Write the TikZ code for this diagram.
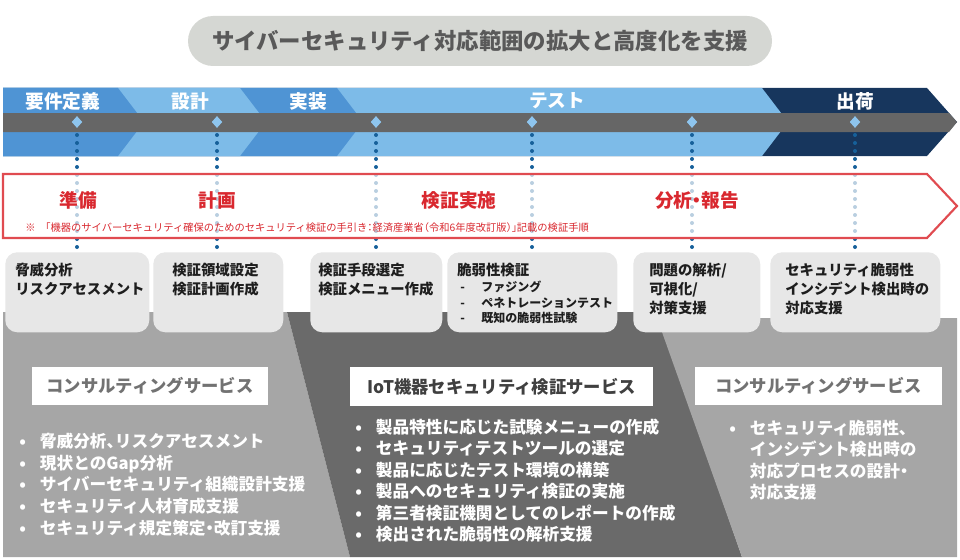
\documentclass[tikz,border=0pt]{standalone}
\usepackage{fontspec}
\setmainfont{Noto Sans CJK JP}
\usetikzlibrary{shapes.geometric}
\definecolor{mblue}{HTML}{4F94D4}
\definecolor{lblue}{HTML}{7DBBE8}
\definecolor{navy}{HTML}{17365D}
\definecolor{bargray}{HTML}{666666}
\definecolor{dia}{HTML}{8EC5EE}
\definecolor{dotblue}{HTML}{16609A}
\definecolor{redl}{HTML}{E04B50}
\definecolor{redt}{HTML}{D9282F}
\definecolor{boxg}{HTML}{E7E7E7}
\definecolor{pl}{HTML}{A6A6A6}
\definecolor{pd}{HTML}{6A6A6A}
\definecolor{pillc}{HTML}{D5D7D3}
\definecolor{titlet}{HTML}{595959}
\definecolor{boxt}{HTML}{1E1E1E}
\tikzset{
  phaselbl/.style={text=white, font=\bfseries\fontsize{14}{16}\selectfont, inner sep=0},
  dmark/.style={diamond, fill=dia, inner sep=0, minimum width=8pt, minimum height=9pt},
  dotline/.style={dotblue, line width=3pt, line cap=round, dash pattern=on 0pt off 6pt},
  redlbl/.style={text=redt, font=\bfseries\fontsize{14}{16}\selectfont, inner sep=0},
  gbox/.style={fill=boxg, rounded corners=9pt, minimum height=60pt, inner sep=0, anchor=north west},
  btext/.style={text=boxt, font=\bfseries\fontsize{10.8}{14.25}\selectfont, align=left, inner sep=0, anchor=north west},
  bsmall/.style={text=boxt, font=\bfseries\fontsize{9}{11.5}\selectfont, align=left, inner sep=0, anchor=north west},
  wlabel/.style={fill=white, inner sep=0, font=\bfseries\fontsize{13}{15}\selectfont},
  blist/.style={text=white, font=\bfseries\fontsize{12.5}{16.3}\selectfont, align=left, inner sep=0, anchor=north west},
}
\newcommand{\bl}{\makebox[15.5pt][l]{•}}
\newcommand{\dl}{\makebox[15.75pt][l]{-}}
\newcommand{\hp}[1]{{\addfontfeature{RawFeature=+halt}#1}}
\begin{document}
\begin{tikzpicture}[x=0.75pt,y=-0.75pt]
\useasboundingbox (0,0) rectangle (960,560);
% title
\node[fill=pillc, rounded corners=18.75pt, minimum width=438pt, minimum height=37.5pt, inner sep=0,
  text=titlet, font=\bfseries\fontsize{16.8}{18}\selectfont] (title) at (480,41)
  {サイバーセキュリティ対応範囲の拡大と高度化を支援};
% phase band
\fill[navy] (3,88) -- (927,88) -- (957,122) -- (927,156) -- (3,156) -- cycle;
\fill[lblue] (3,88) -- (762,88) -- (788,122) -- (762,156) -- (3,156) -- cycle;
\fill[mblue] (3,88) -- (337,88) -- (363,122) -- (337,156) -- (3,156) -- cycle;
\fill[lblue] (3,88) -- (240,88) -- (266,122) -- (240,156) -- (3,156) -- cycle;
\fill[mblue] (3,88) -- (118,88) -- (144,122) -- (118,156) -- (3,156) -- cycle;
\fill[bargray] (3,113) -- (949,113) -- (957,122) -- (949,132) -- (3,132) -- cycle;
\node[phaselbl] (p1) at (63,101) {要件定義};
\node[phaselbl] (p2) at (190,101) {設計};
\node[phaselbl] (p3) at (308,101) {実装};
\node[phaselbl] (p4) at (557,101) {テスト};
\node[phaselbl] (p5) at (855,101) {出荷};
% diamonds
\node[dmark] (d1) at (77,122) {};
\node[dmark] (d2) at (217,122) {};
\node[dmark] (d3) at (376,122) {};
\node[dmark] (d4) at (532,122) {};
\node[dmark] (d5) at (692,122) {};
\node[dmark] (d6) at (855,122) {};
% lower panels
\fill[pl] (3,312) -- (287,312) -- (350,557) -- (3,557) -- cycle;
\fill[pd] (287,312) -- (657,312) -- (742,557) -- (350,557) -- cycle;
\fill[pl] (657,318) -- (957,318) -- (957,557) -- (742,557) -- cycle;
% boxes
\node[gbox, minimum width=108pt] (b1) at (5,252) {};
\node[gbox, minimum width=97.5pt] (b2) at (153,252) {};
\node[gbox, minimum width=99pt] (b3) at (310,252) {};
\node[gbox, minimum width=127.5pt] (b4) at (447,252) {};
\node[gbox, minimum width=95.25pt] (b5) at (633,252) {};
\node[gbox, minimum width=127.5pt] (b6) at (770,252) {};
% dotted connectors
\foreach \d/\b in {d1/b1,d2/b2,d3/b3,d4/b4,d5/b5,d6/b6}{
  \draw[dotline] ([yshift=-9.75pt]\d.center) -- (\d |- \b.north);
}
% red arrow
\fill[white, fill opacity=0.7] (3,174) -- (927,174) -- (957,206) -- (927,238) -- (3,238) -- cycle;
\draw[redl, line width=1.6pt, line join=miter] (3,174) -- (927,174) -- (957,206) -- (927,238) -- (3,238) -- cycle;
\node[redlbl] (r1) at (78,200) {準備};
\node[redlbl] (r2) at (217,200) {計画};
\node[redlbl] (r3) at (459,200) {検証実施};
\node[redlbl] (r4) at (697,200) {分析\hp{・}報告};
\node[text=redt, font=\fontsize{7.7}{9}\selectfont, inner sep=0, anchor=west] (note) at (25,228)
  {※\hspace{7.5pt}\hp{「機器のサイバーセキュリティ確保のためのセキュリティ検証の手引き：経済産業省（令和6年度改訂版）」記載の検証手順}};
% box texts
\node[btext] (t1) at (15,262.7) {脅威分析\\リスクアセスメント};
\node[btext] (t2) at (172,262.7) {検証領域設定\\検証計画作成};
\node[btext] (t3) at (318,262.7) {検証手段選定\\検証メニュー作成};
\node[btext] (t4) at (457,262.7) {脆弱性検証};
\node[bsmall] (t4b) at (460,281) {\dl ファジング\\\dl ペネトレーションテスト\\\dl 既知の脆弱性試験};
\node[btext] (t5) at (649,262.7) {問題の解析/\\可視化/\\対策支援};
\node[btext] (t6) at (785,262.7) {セキュリティ脆弱性\\インシデント検出時の\\対応支援};
% service labels
\node[wlabel, minimum width=177pt, minimum height=28.5pt, text=titlet!85!white] (s1) at (150,386) {コンサルティングサービス};
\node[wlabel, minimum width=227.25pt, minimum height=29.25pt, text=black!75] (s2) at (501.5,386.5) {IoT機器セキュリティ検証サービス};
\node[wlabel, minimum width=185.25pt, minimum height=28.5pt, text=titlet!85!white] (s3) at (818.5,386) {コンサルティングサービス};
% lists
\node[blist] (l1) at (19,432.7) {\bl 脅威分析\hp{、}リスクアセスメント\\\bl 現状とのGap分析\\\bl サイバーセキュリティ組織設計支援\\\bl セキュリティ人材育成支援\\\bl セキュリティ規定策定\hp{・}改訂支援};
\node[blist, font=\bfseries\fontsize{12.5}{16.1}\selectfont] (l2) at (355,418.7) {\bl 製品特性に応じた試験メニューの作成\\\bl セキュリティテストツールの選定\\\bl 製品に応じたテスト環境の構築\\\bl 製品へのセキュリティ検証の実施\\\bl 第三者検証機関としてのレポートの作成\\\bl 検出された脆弱性の解析支援};
\node[blist, font=\bfseries\fontsize{12.5}{16.1}\selectfont] (l3) at (729,419.7) {\bl セキュリティ脆弱性\hp{、}\\\hspace{15.5pt}インシデント検出時の\\\hspace{15.5pt}対応プロセスの設計\hp{・}\\\hspace{15.5pt}対応支援};
\end{tikzpicture}
\end{document}
